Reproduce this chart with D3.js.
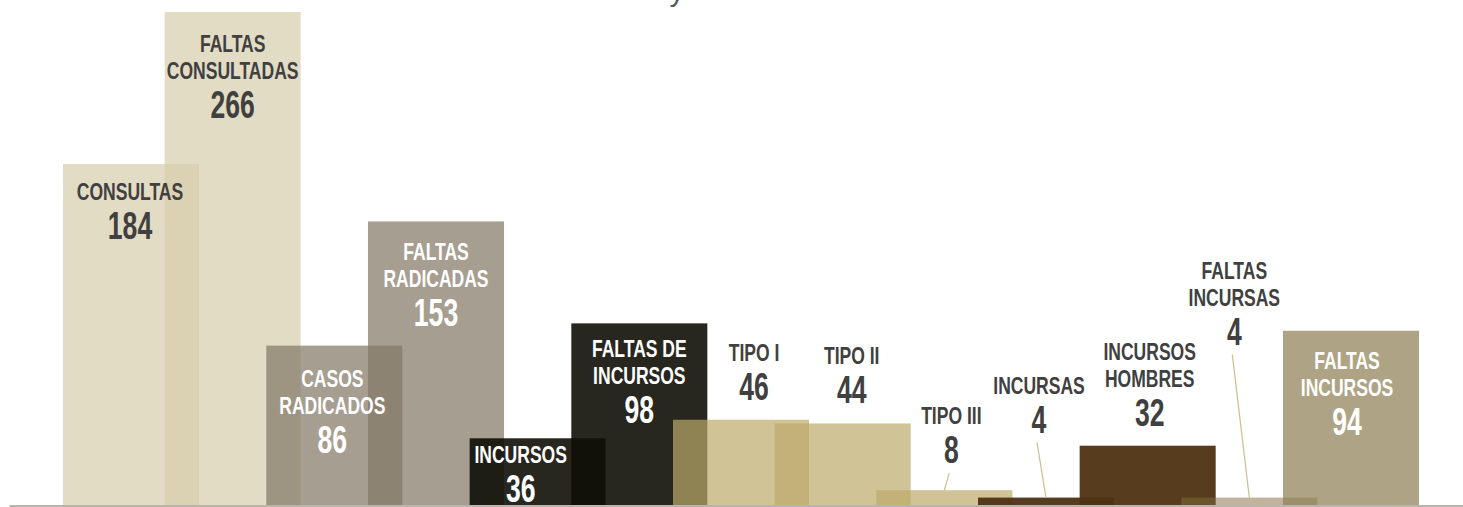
<!DOCTYPE html>
<html lang="es">
<head>
  <meta charset="UTF-8">
  <title>Consultas y faltas</title>
  <script src="https://d3js.org/d3.v7.min.js"></script>
  <style>
    body {
      margin: 0;
      background: #ffffff;
      overflow: hidden;
    }
    svg { display: block; }
    .lbl {
      font-family: 'Liberation Sans Narrow', 'Liberation Sans', Arial, sans-serif;
      font-weight: bold;
      text-anchor: middle;
    }
  </style>
</head>
<body>
  <svg width="1463" height="507"></svg>

  <script>
    // data
    const categories = ["CONSULTAS", "FALTAS CONSULTADAS", "CASOS RADICADOS", "FALTAS RADICADAS",
      "INCURSOS", "FALTAS DE INCURSOS", "TIPO I", "TIPO II", "TIPO III", "INCURSAS",
      "INCURSOS HOMBRES", "FALTAS INCURSAS", "FALTAS INCURSOS"];
    const values = [184, 266, 86, 153, 36, 98, 46, 44, 8, 4, 32, 4, 94];
    const labelLines = [["CONSULTAS"], ["FALTAS", "CONSULTADAS"], ["CASOS", "RADICADOS"], ["FALTAS", "RADICADAS"],
      ["INCURSOS"], ["FALTAS DE", "INCURSOS"], ["TIPO I"], ["TIPO II"], ["TIPO III"], ["INCURSAS"],
      ["INCURSOS", "HOMBRES"], ["FALTAS", "INCURSAS"], ["FALTAS", "INCURSOS"]];

    // styling / label layout (kept apart from the data)
    const fills = ["#d8cead", "#d8cead", "#827866", "#827866", "#100e07", "#100e07",
      "#bcab6a", "#bcab6a", "#bcab6a", "#4e3112", "#4e3112", "#816b39", "#8f8156"];
    const opac = [0.72, 0.72, 0.72, 0.72, 0.9, 0.9, 0.7, 0.7, 0.7, 0.95, 0.95, 0.5, 0.72];
    const textCol = ["#404040", "#404040", "#ffffff", "#ffffff", "#ffffff", "#ffffff",
      "#404040", "#404040", "#404040", "#404040", "#404040", "#404040", "#ffffff"];
    const labelDx = [-1, 0, -2, 0, -17, 0, 13, 9, 7, -7, 2, -15, -4];
    const labelDy = [75, 106, 107, 105, 64, 100, -20, -20, -27, -65, -20, -153, 104];
    const leader = [false, false, false, false, false, false, false, false, true, true, false, true, false];

    const width = 1463, height = 507;
    const base = 505;
    const svg = d3.select("svg");

    const x = d3.scalePoint().domain(categories).range([131, 1351]);
    const barW = x.step() * 1.338;
    const y = d3.scaleLinear().domain([0, 266]).range([base, 12]);

    const rows = categories.map((c, i) => ({
      name: c, value: values[i], lines: labelLines[i], fill: fills[i], op: opac[i],
      tc: textCol[i], dx: labelDx[i], dy: labelDy[i], leader: leader[i]
    }));

    // title remnant at the top edge (cut off in the picture)
    svg.append("text")
      .attr("x", 677).attr("y", 1)
      .attr("font-family", "Liberation Sans, sans-serif")
      .attr("font-size", 30)
      .attr("fill", "#595959")
      .attr("text-anchor", "middle")
      .text("y");

    svg.selectAll("rect.bar")
      .data(rows)
      .enter()
      .append("rect")
      .attr("class", "bar")
      .attr("x", d => x(d.name) - barW / 2)
      .attr("y", d => y(d.value))
      .attr("width", barW)
      .attr("height", d => base - y(d.value))
      .attr("fill", d => d.fill)
      .attr("fill-opacity", d => d.op);

    // axis line
    svg.append("g")
      .attr("transform", `translate(0,${base + 0.5})`)
      .call(d3.axisBottom(d3.scaleLinear().range([9, width])).ticks(0).tickSize(0).tickFormat(""))
      .call(g => g.select(".domain").attr("stroke", "#a39d90").attr("stroke-width", 1.5));

    // leader lines
    svg.selectAll("line.leader")
      .data(rows.filter(d => d.leader))
      .enter()
      .append("line")
      .attr("class", "leader")
      .attr("x1", d => x(d.name) + d.dx - 2)
      .attr("y1", d => y(d.value) + d.dy + 10)
      .attr("x2", d => x(d.name))
      .attr("y2", d => y(d.value))
      .attr("stroke", "#cdbd8c")
      .attr("stroke-width", 1.2);

    // labels: no narrow font installed, so squeeze a bold sans horizontally
    const lbl = svg.selectAll("g.lab")
      .data(rows)
      .enter()
      .append("g")
      .attr("class", "lab")
      .attr("transform", d => `translate(${x(d.name) + d.dx},${y(d.value) + d.dy})`);

    lbl.each(function (d) {
      const g = d3.select(this);
      const n = d.lines.length;
      d.lines.forEach((t, k) => {
        g.append("text")
          .attr("class", "lbl")
          .attr("transform", `translate(0,${-39 - (n - 1 - k) * 27}) scale(0.73,1)`)
          .attr("font-size", 24)
          .attr("fill", d.tc)
          .text(t);
      });
      g.append("text")
        .attr("class", "lbl")
        .attr("transform", "scale(0.7,1)")
        .attr("font-size", 38)
        .attr("fill", d.tc)
        .text(d.value);
    });
  </script>
</body>
</html>
